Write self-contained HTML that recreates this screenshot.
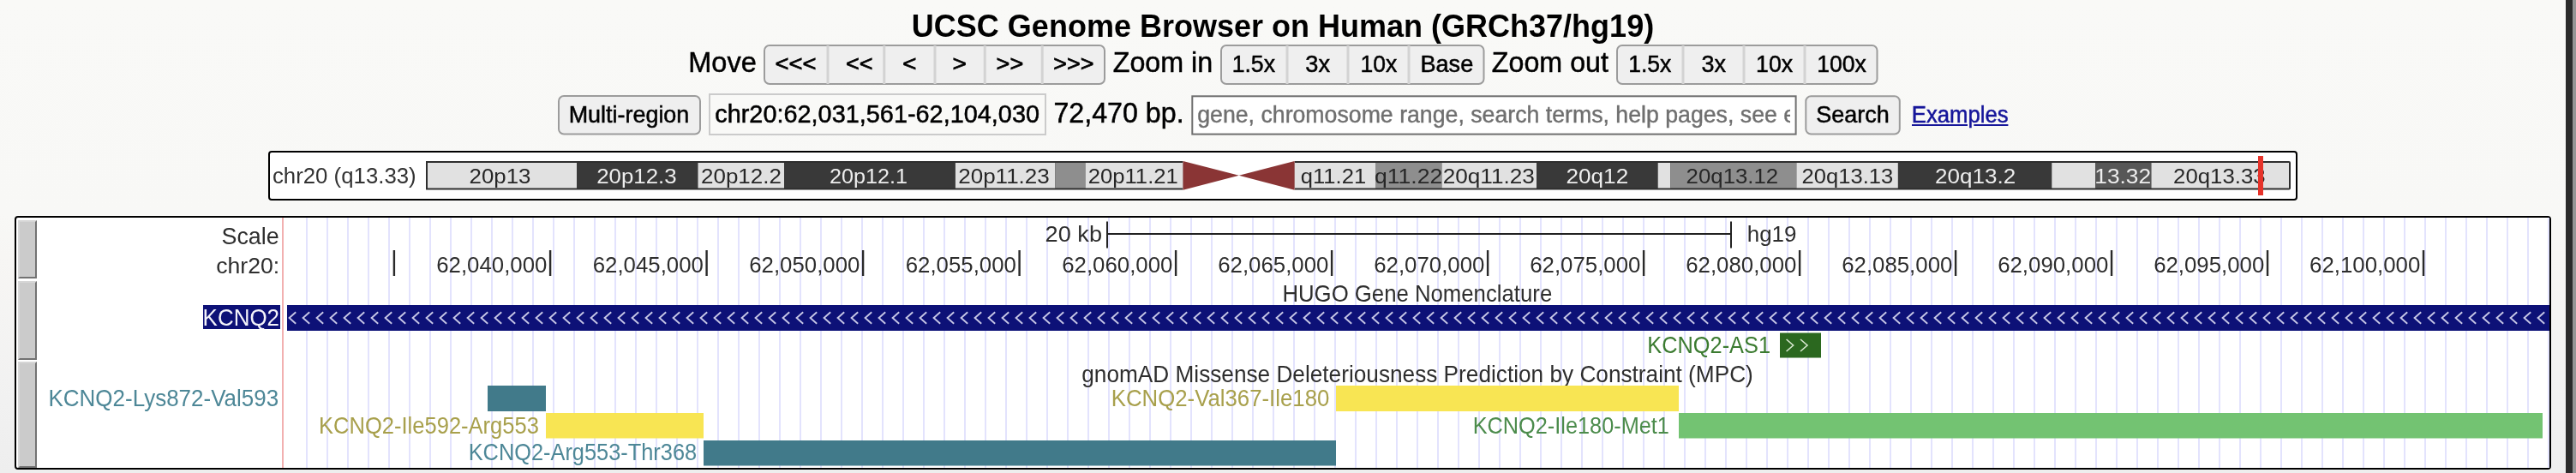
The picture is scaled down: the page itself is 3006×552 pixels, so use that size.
<!DOCTYPE html>
<html><head><meta charset="utf-8"><title>UCSC Genome Browser on Human (GRCh37/hg19)</title>
<style>
html,body{margin:0;padding:0;width:3006px;height:552px;overflow:hidden;background:#f9f9f7}
svg{display:block;will-change:transform;font-family:"Liberation Sans",Arial,Helvetica,sans-serif}
</style></head><body>
<svg width="3006" height="552" viewBox="0 0 3006 552">
<defs><linearGradient id="bg" x1="0" y1="0" x2="0" y2="1"><stop offset="0" stop-color="#f9f9f7"/><stop offset="0.45" stop-color="#f8f8f6"/><stop offset="0.543" stop-color="#f7f6f4"/><stop offset="0.85" stop-color="#f1f1f1"/><stop offset="1" stop-color="#eeeeee"/></linearGradient><clipPath id="phclip"><rect x="1394" y="113" width="695" height="43"/></clipPath></defs>
<rect x="0" y="0" width="3006" height="552" fill="url(#bg)" />
<rect x="2994" y="0" width="8" height="552" fill="#2b2b2b" />
<rect x="3002" y="0" width="4" height="552" fill="#959595" />
<text x="1063.84" y="43" font-size="37.5" fill="#000" font-weight="bold" textLength="866.33" lengthAdjust="spacingAndGlyphs" >UCSC Genome Browser on Human (GRCh37/hg19)</text>
<text x="803.20" y="84" font-size="33.5" fill="#000" textLength="79.58" lengthAdjust="spacingAndGlyphs" stroke="#000" stroke-width="0.5">Move</text>
<rect x="892" y="53" width="397" height="45" rx="6" ry="6" fill="#efefef" stroke="#9c9c9c" stroke-width="2"/>
<rect x="964.5" y="53" width="3" height="45" fill="#d3d3d3" />
<rect x="1030.3" y="53" width="3" height="45" fill="#d3d3d3" />
<rect x="1089.5" y="53" width="3" height="45" fill="#d3d3d3" />
<rect x="1147.7" y="53" width="3" height="45" fill="#d3d3d3" />
<rect x="1214.7" y="53" width="3" height="45" fill="#d3d3d3" />
<text x="904.43" y="82.6" font-size="25" fill="#000" textLength="47.99" lengthAdjust="spacingAndGlyphs" stroke="#000" stroke-width="0.7">&lt;&lt;&lt;</text>
<text x="987.05" y="82.6" font-size="25" fill="#000" textLength="31.55" lengthAdjust="spacingAndGlyphs" stroke="#000" stroke-width="0.7">&lt;&lt;</text>
<text x="1053.31" y="82.6" font-size="25" fill="#000" textLength="16.21" lengthAdjust="spacingAndGlyphs" stroke="#000" stroke-width="0.7">&lt;</text>
<text x="1111.59" y="82.6" font-size="25" fill="#000" textLength="16.45" lengthAdjust="spacingAndGlyphs" stroke="#000" stroke-width="0.7">&gt;</text>
<text x="1162.64" y="82.6" font-size="25" fill="#000" textLength="31.66" lengthAdjust="spacingAndGlyphs" stroke="#000" stroke-width="0.7">&gt;&gt;</text>
<text x="1229.25" y="82.6" font-size="25" fill="#000" textLength="47.14" lengthAdjust="spacingAndGlyphs" stroke="#000" stroke-width="0.7">&gt;&gt;&gt;</text>
<text x="1298.73" y="84" font-size="33.5" fill="#000" textLength="116.48" lengthAdjust="spacingAndGlyphs" stroke="#000" stroke-width="0.5">Zoom in</text>
<rect x="1425" y="53" width="306.5" height="45" rx="6" ry="6" fill="#efefef" stroke="#9c9c9c" stroke-width="2"/>
<rect x="1500.5" y="53" width="3" height="45" fill="#d3d3d3" />
<rect x="1571.5" y="53" width="3" height="45" fill="#d3d3d3" />
<rect x="1642.5" y="53" width="3" height="45" fill="#d3d3d3" />
<text x="1437.67" y="84" font-size="27.5" fill="#000" textLength="50.30" lengthAdjust="spacingAndGlyphs" stroke="#000" stroke-width="0.5">1.5x</text>
<text x="1523.31" y="84" font-size="27.5" fill="#000" textLength="28.73" lengthAdjust="spacingAndGlyphs" stroke="#000" stroke-width="0.5">3x</text>
<text x="1587.58" y="84" font-size="27.5" fill="#000" textLength="42.75" lengthAdjust="spacingAndGlyphs" stroke="#000" stroke-width="0.5">10x</text>
<text x="1657.43" y="84" font-size="27.5" fill="#000" textLength="61.84" lengthAdjust="spacingAndGlyphs" stroke="#000" stroke-width="0.5">Base</text>
<text x="1740.83" y="84" font-size="33.5" fill="#000" textLength="136.10" lengthAdjust="spacingAndGlyphs" stroke="#000" stroke-width="0.5">Zoom out</text>
<rect x="1887" y="53" width="303.5" height="45" rx="6" ry="6" fill="#efefef" stroke="#9c9c9c" stroke-width="2"/>
<rect x="1962.5" y="53" width="3" height="45" fill="#d3d3d3" />
<rect x="2033.5" y="53" width="3" height="45" fill="#d3d3d3" />
<rect x="2104.5" y="53" width="3" height="45" fill="#d3d3d3" />
<text x="1900.18" y="84" font-size="27.5" fill="#000" textLength="50.09" lengthAdjust="spacingAndGlyphs" stroke="#000" stroke-width="0.5">1.5x</text>
<text x="1985.62" y="84" font-size="27.5" fill="#000" textLength="28.41" lengthAdjust="spacingAndGlyphs" stroke="#000" stroke-width="0.5">3x</text>
<text x="2049.07" y="84" font-size="27.5" fill="#000" textLength="42.96" lengthAdjust="spacingAndGlyphs" stroke="#000" stroke-width="0.5">10x</text>
<text x="2120.17" y="84" font-size="27.5" fill="#000" textLength="57.62" lengthAdjust="spacingAndGlyphs" stroke="#000" stroke-width="0.5">100x</text>
<rect x="652" y="112" width="165" height="44.5" rx="6" ry="6" fill="#efefef" stroke="#9c9c9c" stroke-width="2"/>
<text x="663.65" y="142.8" font-size="27.8" fill="#000" textLength="140.68" lengthAdjust="spacingAndGlyphs" stroke="#000" stroke-width="0.5">Multi-region</text>
<rect x="828" y="110" width="392" height="47" fill="#f9f9f7" stroke="#cbcbcb" stroke-width="2"/>
<text x="834.25" y="142.8" font-size="28.8" fill="#000" textLength="378.77" lengthAdjust="spacingAndGlyphs" stroke="#000" stroke-width="0.5">chr20:62,031,561-62,104,030</text>
<text x="1229.39" y="143.3" font-size="33.5" fill="#000" textLength="152.20" lengthAdjust="spacingAndGlyphs" stroke="#000" stroke-width="0.5">72,470 bp.</text>
<rect x="1391.3" y="112.3" width="704.3" height="44.3" fill="#fff" stroke="#6f6f6f" stroke-width="2"/>
<text x="1397.23" y="142.7" font-size="26.9" fill="#6f6f6f" textLength="798.29" lengthAdjust="spacingAndGlyphs" clip-path="url(#phclip)" stroke="#6f6f6f" stroke-width="0.4">gene, chromosome range, search terms, help pages, see examples</text>
<rect x="2107.3" y="112.3" width="109.5" height="44.2" rx="6" ry="6" fill="#efefef" stroke="#9c9c9c" stroke-width="2"/>
<text x="2119.35" y="142.7" font-size="27.8" fill="#000" textLength="85.50" lengthAdjust="spacingAndGlyphs" stroke="#000" stroke-width="0.5">Search</text>
<text x="2230.74" y="142.7" font-size="27" fill="#16169a" textLength="112.90" lengthAdjust="spacingAndGlyphs" stroke="#16169a" stroke-width="0.5">Examples</text>
<rect x="2231" y="145" width="65" height="2" fill="#16169a" />
<rect x="2303.3" y="145" width="40.1" height="2" fill="#16169a" />
<rect x="314" y="177" width="2366" height="56" rx="3" ry="3" fill="#fff" stroke="#000" stroke-width="2"/>
<text x="317.97" y="213.6" font-size="26" fill="#333" textLength="167.68" lengthAdjust="spacingAndGlyphs" >chr20 (q13.33)</text>
<path d="M497,188 H1380.4 V221.5 H497 Z" fill="#2e2e2e"/>
<path d="M1510.7,188 H2671 Q2673,188 2673,190 V219.5 Q2673,221.5 2671,221.5 H1510.7 Z" fill="#2e2e2e"/>
<rect x="499" y="190" width="174.1" height="29.5" fill="#e1e1e1" />
<rect x="673.1" y="190" width="141.4" height="29.5" fill="#393939" />
<rect x="814.5" y="190" width="100.5" height="29.5" fill="#e1e1e1" />
<rect x="915" y="190" width="199.9" height="29.5" fill="#393939" />
<rect x="1114.9" y="190" width="116.4" height="29.5" fill="#e1e1e1" />
<rect x="1231.3" y="190" width="35.3" height="29.5" fill="#8e8e8e" />
<rect x="1266.6" y="190" width="113.8" height="29.5" fill="#e1e1e1" />
<rect x="1510.7" y="190" width="94.3" height="29.5" fill="#e1e1e1" />
<rect x="1605" y="190" width="77.5" height="29.5" fill="#8e8e8e" />
<rect x="1682.5" y="190" width="110.5" height="29.5" fill="#e1e1e1" />
<rect x="1793" y="190" width="141.7" height="29.5" fill="#393939" />
<rect x="1934.7" y="190" width="14.6" height="29.5" fill="#e1e1e1" />
<rect x="1949.3" y="190" width="147.1" height="29.5" fill="#8e8e8e" />
<rect x="2096.4" y="190" width="118.5" height="29.5" fill="#e1e1e1" />
<rect x="2214.9" y="190" width="179.4" height="29.5" fill="#393939" />
<rect x="2394.3" y="190" width="50.9" height="29.5" fill="#e1e1e1" />
<rect x="2445.2" y="190" width="65.3" height="29.5" fill="#575757" />
<rect x="2510.5" y="190" width="160.5" height="29.5" fill="#e1e1e1" />
<text x="547.61" y="214" font-size="24.5" fill="#262626" textLength="71.84" lengthAdjust="spacingAndGlyphs" >20p13</text>
<text x="696.21" y="214" font-size="24.5" fill="#eeeeee" textLength="93.45" lengthAdjust="spacingAndGlyphs" >20p12.3</text>
<text x="818.00" y="214" font-size="24.5" fill="#262626" textLength="93.92" lengthAdjust="spacingAndGlyphs" >20p12.2</text>
<text x="967.94" y="214" font-size="24.5" fill="#eeeeee" textLength="91.19" lengthAdjust="spacingAndGlyphs" >20p12.1</text>
<text x="1118.20" y="214" font-size="24.5" fill="#262626" textLength="106.62" lengthAdjust="spacingAndGlyphs" >20p11.23</text>
<text x="1269.72" y="214" font-size="24.5" fill="#262626" textLength="105.08" lengthAdjust="spacingAndGlyphs" >20p11.21</text>
<text x="1517.78" y="214" font-size="24.5" fill="#262626" textLength="76.36" lengthAdjust="spacingAndGlyphs" >q11.21</text>
<text x="1603.94" y="214" font-size="24.5" fill="#262626" textLength="79.41" lengthAdjust="spacingAndGlyphs" >q11.22</text>
<text x="1683.69" y="214" font-size="24.5" fill="#262626" textLength="107.13" lengthAdjust="spacingAndGlyphs" >20q11.23</text>
<text x="1827.49" y="214" font-size="24.5" fill="#eeeeee" textLength="72.74" lengthAdjust="spacingAndGlyphs" >20q12</text>
<text x="1967.61" y="214" font-size="24.5" fill="#262626" textLength="107.60" lengthAdjust="spacingAndGlyphs" >20q13.12</text>
<text x="2102.62" y="214" font-size="24.5" fill="#262626" textLength="106.52" lengthAdjust="spacingAndGlyphs" >20q13.13</text>
<text x="2258.00" y="214" font-size="24.5" fill="#eeeeee" textLength="94.13" lengthAdjust="spacingAndGlyphs" >20q13.2</text>
<text x="2444.30" y="214" font-size="24.5" fill="#eeeeee" textLength="65.78" lengthAdjust="spacingAndGlyphs" >13.32</text>
<text x="2536.11" y="214" font-size="24.5" fill="#262626" textLength="107.44" lengthAdjust="spacingAndGlyphs" >20q13.33</text>
<polygon points="1380.5,187.9 1380.5,221.8 1445.8,204.8" fill="#8a3535"/>
<polygon points="1510.6,187.9 1510.6,221.8 1445.8,204.8" fill="#8a3535"/>
<rect x="2635" y="182" width="6" height="46" fill="#e6332a" />
<rect x="18" y="253" width="2958" height="294" rx="3" ry="3" fill="#fff" stroke="#000" stroke-width="2"/>
<path d="M358,254V546M382,254V546M406,254V546M430,254V546M454,254V546M478,254V546M502,254V546M526,254V546M550,254V546M574,254V546M598,254V546M622,254V546M646,254V546M670,254V546M694,254V546M718,254V546M742,254V546M766,254V546M790,254V546M814,254V546M838,254V546M862,254V546M886,254V546M910,254V546M934,254V546M958,254V546M982,254V546M1006,254V546M1030,254V546M1054,254V546M1078,254V546M1102,254V546M1126,254V546M1150,254V546M1174,254V546M1198,254V546M1222,254V546M1246,254V546M1270,254V546M1294,254V546M1318,254V546M1342,254V546M1366,254V546M1390,254V546M1414,254V546M1438,254V546M1462,254V546M1486,254V546M1510,254V546M1534,254V546M1558,254V546M1582,254V546M1606,254V546M1630,254V546M1654,254V546M1678,254V546M1702,254V546M1726,254V546M1750,254V546M1774,254V546M1798,254V546M1822,254V546M1846,254V546M1870,254V546M1894,254V546M1918,254V546M1942,254V546M1966,254V546M1990,254V546M2014,254V546M2038,254V546M2062,254V546M2086,254V546M2110,254V546M2134,254V546M2158,254V546M2182,254V546M2206,254V546M2230,254V546M2254,254V546M2278,254V546M2302,254V546M2326,254V546M2350,254V546M2374,254V546M2398,254V546M2422,254V546M2446,254V546M2470,254V546M2494,254V546M2518,254V546M2542,254V546M2566,254V546M2590,254V546M2614,254V546M2638,254V546M2662,254V546M2686,254V546M2710,254V546M2734,254V546M2758,254V546M2782,254V546M2806,254V546M2830,254V546M2854,254V546M2878,254V546M2902,254V546M2926,254V546M2950,254V546M2974,254V546" stroke="#e3e3fd" stroke-width="2" fill="none"/>
<rect x="329" y="254" width="2" height="292" fill="#f2b0b0" />
<rect x="21" y="257" width="22" height="68" fill="#cbcbcb" />
<polygon points="21,257 43,257 41,259 23,259 23,323 21,325" fill="#d6d6d6"/>
<polygon points="43,257 43,325 21,325 23,323 41,323 41,259" fill="#727272"/>
<rect x="21" y="328" width="22" height="92" fill="#cbcbcb" />
<polygon points="21,328 43,328 41,330 23,330 23,418 21,420" fill="#d6d6d6"/>
<polygon points="43,328 43,420 21,420 23,418 41,418 41,330" fill="#727272"/>
<rect x="21" y="422" width="22" height="124" fill="#cbcbcb" />
<polygon points="21,422 43,422 41,424 23,424 23,544 21,546" fill="#d6d6d6"/>
<polygon points="43,422 43,546 21,546 23,544 41,544 41,424" fill="#727272"/>
<text x="258.46" y="285" font-size="27.5" fill="#2e2e2e" textLength="67.26" lengthAdjust="spacingAndGlyphs" >Scale</text>
<text x="252.24" y="318.6" font-size="26.5" fill="#2e2e2e" textLength="73.94" lengthAdjust="spacingAndGlyphs" >chr20:</text>
<text x="1219.64" y="282.1" font-size="26.5" fill="#2e2e2e" textLength="66.41" lengthAdjust="spacingAndGlyphs" >20 kb</text>
<text x="2038.79" y="282.1" font-size="26.5" fill="#2e2e2e" textLength="57.67" lengthAdjust="spacingAndGlyphs" >hg19</text>
<rect x="1291" y="258.5" width="2" height="31" fill="#222" />
<rect x="2019" y="258.5" width="2" height="31" fill="#222" />
<rect x="1293" y="272" width="726" height="2" fill="#222" />
<rect x="458.7" y="292" width="2.4" height="30" fill="#2a2a2a" />
<rect x="640.9" y="292" width="2.4" height="30" fill="#2a2a2a" />
<text x="509.21" y="317.6" font-size="25" fill="#2e2e2e" textLength="129.19" lengthAdjust="spacingAndGlyphs" >62,040,000</text>
<rect x="823.4" y="292" width="2.4" height="30" fill="#2a2a2a" />
<text x="691.71" y="317.6" font-size="25" fill="#2e2e2e" textLength="129.19" lengthAdjust="spacingAndGlyphs" >62,045,000</text>
<rect x="1005.9" y="292" width="2.4" height="30" fill="#2a2a2a" />
<text x="874.21" y="317.6" font-size="25" fill="#2e2e2e" textLength="129.19" lengthAdjust="spacingAndGlyphs" >62,050,000</text>
<rect x="1188.4" y="292" width="2.4" height="30" fill="#2a2a2a" />
<text x="1056.71" y="317.6" font-size="25" fill="#2e2e2e" textLength="129.19" lengthAdjust="spacingAndGlyphs" >62,055,000</text>
<rect x="1370.9" y="292" width="2.4" height="30" fill="#2a2a2a" />
<text x="1239.21" y="317.6" font-size="25" fill="#2e2e2e" textLength="129.19" lengthAdjust="spacingAndGlyphs" >62,060,000</text>
<rect x="1552.9" y="292" width="2.4" height="30" fill="#2a2a2a" />
<text x="1421.21" y="317.6" font-size="25" fill="#2e2e2e" textLength="129.19" lengthAdjust="spacingAndGlyphs" >62,065,000</text>
<rect x="1734.9" y="292" width="2.4" height="30" fill="#2a2a2a" />
<text x="1603.21" y="317.6" font-size="25" fill="#2e2e2e" textLength="129.19" lengthAdjust="spacingAndGlyphs" >62,070,000</text>
<rect x="1916.9" y="292" width="2.4" height="30" fill="#2a2a2a" />
<text x="1785.21" y="317.6" font-size="25" fill="#2e2e2e" textLength="129.19" lengthAdjust="spacingAndGlyphs" >62,075,000</text>
<rect x="2098.9" y="292" width="2.4" height="30" fill="#2a2a2a" />
<text x="1967.21" y="317.6" font-size="25" fill="#2e2e2e" textLength="129.19" lengthAdjust="spacingAndGlyphs" >62,080,000</text>
<rect x="2280.88" y="292" width="2.4" height="30" fill="#2a2a2a" />
<text x="2149.18" y="317.6" font-size="25" fill="#2e2e2e" textLength="129.19" lengthAdjust="spacingAndGlyphs" >62,085,000</text>
<rect x="2462.85" y="292" width="2.4" height="30" fill="#2a2a2a" />
<text x="2331.16" y="317.6" font-size="25" fill="#2e2e2e" textLength="129.19" lengthAdjust="spacingAndGlyphs" >62,090,000</text>
<rect x="2644.83" y="292" width="2.4" height="30" fill="#2a2a2a" />
<text x="2513.13" y="317.6" font-size="25" fill="#2e2e2e" textLength="129.19" lengthAdjust="spacingAndGlyphs" >62,095,000</text>
<rect x="2826.8" y="292" width="2.4" height="30" fill="#2a2a2a" />
<text x="2695.11" y="317.6" font-size="25" fill="#2e2e2e" textLength="129.19" lengthAdjust="spacingAndGlyphs" >62,100,000</text>
<text x="1496.44" y="351.8" font-size="27.8" fill="#2e2e2e" textLength="314.77" lengthAdjust="spacingAndGlyphs" >HUGO Gene Nomenclature</text>
<rect x="237" y="356" width="90" height="28" fill="#0d1177" />
<clipPath id="kc"><rect x="237" y="356" width="90" height="28"/></clipPath>
<text x="236.62" y="379.9" font-size="28" fill="#f4f4fa" textLength="89.45" lengthAdjust="spacingAndGlyphs" clip-path="url(#kc)" >KCNQ2</text>
<rect x="335" y="356" width="2640" height="30" fill="#0d1177" />
<path d="M345.20,364.3L337.60,371L345.20,377.7M361.20,364.3L353.60,371L361.20,377.7M377.20,364.3L369.60,371L377.20,377.7M393.20,364.3L385.60,371L393.20,377.7M409.20,364.3L401.60,371L409.20,377.7M425.20,364.3L417.60,371L425.20,377.7M441.20,364.3L433.60,371L441.20,377.7M457.20,364.3L449.60,371L457.20,377.7M473.20,364.3L465.60,371L473.20,377.7M489.20,364.3L481.60,371L489.20,377.7M505.20,364.3L497.60,371L505.20,377.7M521.20,364.3L513.60,371L521.20,377.7M537.20,364.3L529.60,371L537.20,377.7M553.20,364.3L545.60,371L553.20,377.7M569.20,364.3L561.60,371L569.20,377.7M585.20,364.3L577.60,371L585.20,377.7M601.20,364.3L593.60,371L601.20,377.7M617.20,364.3L609.60,371L617.20,377.7M633.20,364.3L625.60,371L633.20,377.7M649.20,364.3L641.60,371L649.20,377.7M665.20,364.3L657.60,371L665.20,377.7M681.20,364.3L673.60,371L681.20,377.7M697.20,364.3L689.60,371L697.20,377.7M713.20,364.3L705.60,371L713.20,377.7M729.20,364.3L721.60,371L729.20,377.7M745.20,364.3L737.60,371L745.20,377.7M761.20,364.3L753.60,371L761.20,377.7M777.20,364.3L769.60,371L777.20,377.7M793.20,364.3L785.60,371L793.20,377.7M809.20,364.3L801.60,371L809.20,377.7M825.20,364.3L817.60,371L825.20,377.7M841.20,364.3L833.60,371L841.20,377.7M857.20,364.3L849.60,371L857.20,377.7M873.20,364.3L865.60,371L873.20,377.7M889.20,364.3L881.60,371L889.20,377.7M905.20,364.3L897.60,371L905.20,377.7M921.20,364.3L913.60,371L921.20,377.7M937.20,364.3L929.60,371L937.20,377.7M953.20,364.3L945.60,371L953.20,377.7M969.20,364.3L961.60,371L969.20,377.7M985.20,364.3L977.60,371L985.20,377.7M1001.20,364.3L993.60,371L1001.20,377.7M1017.20,364.3L1009.60,371L1017.20,377.7M1033.20,364.3L1025.60,371L1033.20,377.7M1049.20,364.3L1041.60,371L1049.20,377.7M1065.20,364.3L1057.60,371L1065.20,377.7M1081.20,364.3L1073.60,371L1081.20,377.7M1097.20,364.3L1089.60,371L1097.20,377.7M1113.20,364.3L1105.60,371L1113.20,377.7M1129.20,364.3L1121.60,371L1129.20,377.7M1145.20,364.3L1137.60,371L1145.20,377.7M1161.20,364.3L1153.60,371L1161.20,377.7M1177.20,364.3L1169.60,371L1177.20,377.7M1193.20,364.3L1185.60,371L1193.20,377.7M1209.20,364.3L1201.60,371L1209.20,377.7M1225.20,364.3L1217.60,371L1225.20,377.7M1241.20,364.3L1233.60,371L1241.20,377.7M1257.20,364.3L1249.60,371L1257.20,377.7M1273.20,364.3L1265.60,371L1273.20,377.7M1289.20,364.3L1281.60,371L1289.20,377.7M1305.20,364.3L1297.60,371L1305.20,377.7M1321.20,364.3L1313.60,371L1321.20,377.7M1337.20,364.3L1329.60,371L1337.20,377.7M1353.20,364.3L1345.60,371L1353.20,377.7M1369.20,364.3L1361.60,371L1369.20,377.7M1385.20,364.3L1377.60,371L1385.20,377.7M1401.20,364.3L1393.60,371L1401.20,377.7M1417.20,364.3L1409.60,371L1417.20,377.7M1433.20,364.3L1425.60,371L1433.20,377.7M1449.20,364.3L1441.60,371L1449.20,377.7M1465.20,364.3L1457.60,371L1465.20,377.7M1481.20,364.3L1473.60,371L1481.20,377.7M1497.20,364.3L1489.60,371L1497.20,377.7M1513.20,364.3L1505.60,371L1513.20,377.7M1529.20,364.3L1521.60,371L1529.20,377.7M1545.20,364.3L1537.60,371L1545.20,377.7M1561.20,364.3L1553.60,371L1561.20,377.7M1577.20,364.3L1569.60,371L1577.20,377.7M1593.20,364.3L1585.60,371L1593.20,377.7M1609.20,364.3L1601.60,371L1609.20,377.7M1625.20,364.3L1617.60,371L1625.20,377.7M1641.20,364.3L1633.60,371L1641.20,377.7M1657.20,364.3L1649.60,371L1657.20,377.7M1673.20,364.3L1665.60,371L1673.20,377.7M1689.20,364.3L1681.60,371L1689.20,377.7M1705.20,364.3L1697.60,371L1705.20,377.7M1721.20,364.3L1713.60,371L1721.20,377.7M1737.20,364.3L1729.60,371L1737.20,377.7M1753.20,364.3L1745.60,371L1753.20,377.7M1769.20,364.3L1761.60,371L1769.20,377.7M1785.20,364.3L1777.60,371L1785.20,377.7M1801.20,364.3L1793.60,371L1801.20,377.7M1817.20,364.3L1809.60,371L1817.20,377.7M1833.20,364.3L1825.60,371L1833.20,377.7M1849.20,364.3L1841.60,371L1849.20,377.7M1865.20,364.3L1857.60,371L1865.20,377.7M1881.20,364.3L1873.60,371L1881.20,377.7M1897.20,364.3L1889.60,371L1897.20,377.7M1913.20,364.3L1905.60,371L1913.20,377.7M1929.20,364.3L1921.60,371L1929.20,377.7M1945.20,364.3L1937.60,371L1945.20,377.7M1961.20,364.3L1953.60,371L1961.20,377.7M1977.20,364.3L1969.60,371L1977.20,377.7M1993.20,364.3L1985.60,371L1993.20,377.7M2009.20,364.3L2001.60,371L2009.20,377.7M2025.20,364.3L2017.60,371L2025.20,377.7M2041.20,364.3L2033.60,371L2041.20,377.7M2057.20,364.3L2049.60,371L2057.20,377.7M2073.20,364.3L2065.60,371L2073.20,377.7M2089.20,364.3L2081.60,371L2089.20,377.7M2105.20,364.3L2097.60,371L2105.20,377.7M2121.20,364.3L2113.60,371L2121.20,377.7M2137.20,364.3L2129.60,371L2137.20,377.7M2153.20,364.3L2145.60,371L2153.20,377.7M2169.20,364.3L2161.60,371L2169.20,377.7M2185.20,364.3L2177.60,371L2185.20,377.7M2201.20,364.3L2193.60,371L2201.20,377.7M2217.20,364.3L2209.60,371L2217.20,377.7M2233.20,364.3L2225.60,371L2233.20,377.7M2249.20,364.3L2241.60,371L2249.20,377.7M2265.20,364.3L2257.60,371L2265.20,377.7M2281.20,364.3L2273.60,371L2281.20,377.7M2297.20,364.3L2289.60,371L2297.20,377.7M2313.20,364.3L2305.60,371L2313.20,377.7M2329.20,364.3L2321.60,371L2329.20,377.7M2345.20,364.3L2337.60,371L2345.20,377.7M2361.20,364.3L2353.60,371L2361.20,377.7M2377.20,364.3L2369.60,371L2377.20,377.7M2393.20,364.3L2385.60,371L2393.20,377.7M2409.20,364.3L2401.60,371L2409.20,377.7M2425.20,364.3L2417.60,371L2425.20,377.7M2441.20,364.3L2433.60,371L2441.20,377.7M2457.20,364.3L2449.60,371L2457.20,377.7M2473.20,364.3L2465.60,371L2473.20,377.7M2489.20,364.3L2481.60,371L2489.20,377.7M2505.20,364.3L2497.60,371L2505.20,377.7M2521.20,364.3L2513.60,371L2521.20,377.7M2537.20,364.3L2529.60,371L2537.20,377.7M2553.20,364.3L2545.60,371L2553.20,377.7M2569.20,364.3L2561.60,371L2569.20,377.7M2585.20,364.3L2577.60,371L2585.20,377.7M2601.20,364.3L2593.60,371L2601.20,377.7M2617.20,364.3L2609.60,371L2617.20,377.7M2633.20,364.3L2625.60,371L2633.20,377.7M2649.20,364.3L2641.60,371L2649.20,377.7M2665.20,364.3L2657.60,371L2665.20,377.7M2681.20,364.3L2673.60,371L2681.20,377.7M2697.20,364.3L2689.60,371L2697.20,377.7M2713.20,364.3L2705.60,371L2713.20,377.7M2729.20,364.3L2721.60,371L2729.20,377.7M2745.20,364.3L2737.60,371L2745.20,377.7M2761.20,364.3L2753.60,371L2761.20,377.7M2777.20,364.3L2769.60,371L2777.20,377.7M2793.20,364.3L2785.60,371L2793.20,377.7M2809.20,364.3L2801.60,371L2809.20,377.7M2825.20,364.3L2817.60,371L2825.20,377.7M2841.20,364.3L2833.60,371L2841.20,377.7M2857.20,364.3L2849.60,371L2857.20,377.7M2873.20,364.3L2865.60,371L2873.20,377.7M2889.20,364.3L2881.60,371L2889.20,377.7M2905.20,364.3L2897.60,371L2905.20,377.7M2921.20,364.3L2913.60,371L2921.20,377.7M2937.20,364.3L2929.60,371L2937.20,377.7M2953.20,364.3L2945.60,371L2953.20,377.7M2969.20,364.3L2961.60,371L2969.20,377.7" stroke="#c6c6e6" stroke-width="1.9" fill="none"/>
<text x="1922.27" y="411.7" font-size="28" fill="#3b7b30" textLength="143.76" lengthAdjust="spacingAndGlyphs" >KCNQ2-AS1</text>
<rect x="2077" y="388.5" width="48" height="29" fill="#2b681f" />
<path d="M2084.6,396L2092.6,403L2084.6,410M2101,396L2109,403L2101,410" stroke="#d8e8d0" stroke-width="1.6" fill="none"/>
<text x="1262.25" y="445.8" font-size="27.8" fill="#2e2e2e" textLength="783.53" lengthAdjust="spacingAndGlyphs" >gnomAD Missense Deleteriousness Prediction by Constraint (MPC)</text>
<rect x="569" y="450" width="68" height="30" fill="#417a8a" />
<rect x="1559" y="450" width="400" height="30" fill="#f8e553" />
<rect x="637" y="482" width="184" height="29.5" fill="#f8e553" />
<rect x="1959" y="482" width="1008" height="29.5" fill="#73c372" />
<rect x="821" y="514" width="738" height="29.5" fill="#417a8a" />
<text x="56.42" y="473.6" font-size="27.5" fill="#4d8797" textLength="268.78" lengthAdjust="spacingAndGlyphs" >KCNQ2-Lys872-Val593</text>
<text x="1296.74" y="474.2" font-size="27.5" fill="#a8a04c" textLength="254.58" lengthAdjust="spacingAndGlyphs" >KCNQ2-Val367-Ile180</text>
<text x="372.06" y="506.1" font-size="27.5" fill="#a8a04c" textLength="256.88" lengthAdjust="spacingAndGlyphs" >KCNQ2-Ile592-Arg553</text>
<text x="1718.68" y="505.7" font-size="27.5" fill="#4c8c4c" textLength="229.27" lengthAdjust="spacingAndGlyphs" >KCNQ2-Ile180-Met1</text>
<text x="546.67" y="537.3" font-size="27.5" fill="#4d8797" textLength="266.46" lengthAdjust="spacingAndGlyphs" >KCNQ2-Arg553-Thr368</text>
</svg>
</body></html>
